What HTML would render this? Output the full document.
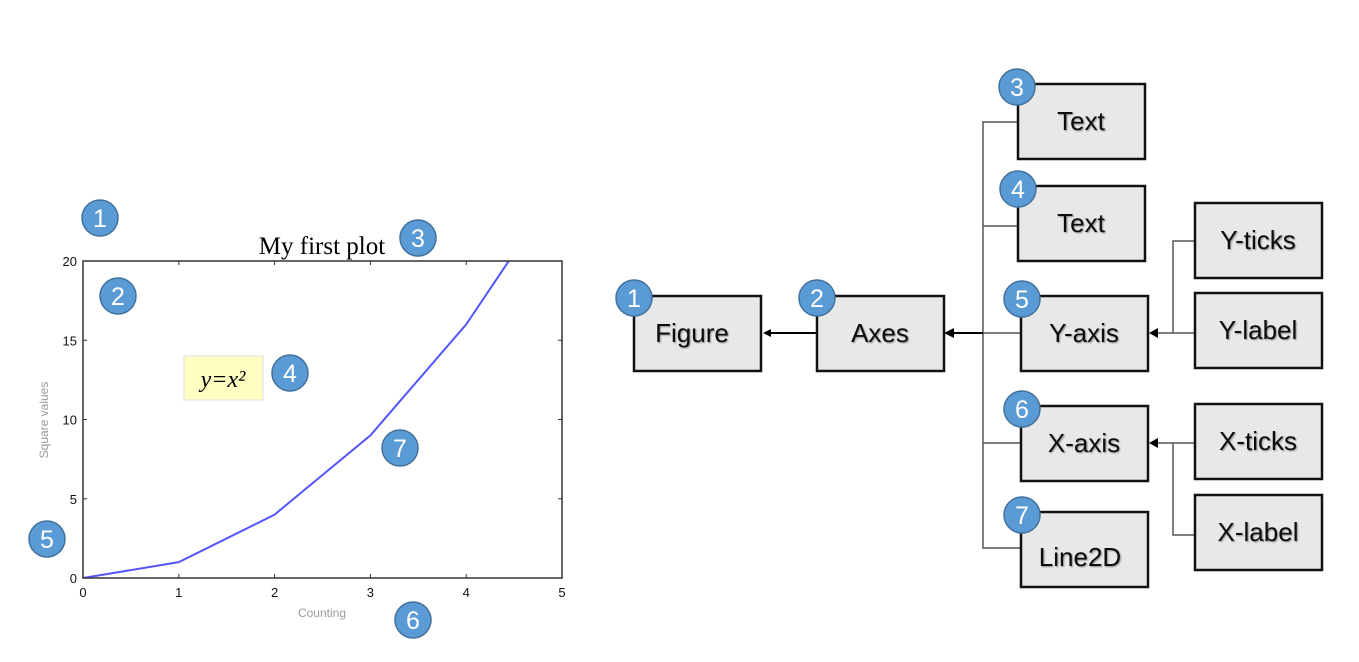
<!DOCTYPE html>
<html><head><meta charset="utf-8"><style>
body{margin:0;background:#fff;width:1359px;height:657px;overflow:hidden;font-family:"Liberation Sans",sans-serif}
</style></head><body>
<svg width="1359" height="657" xmlns="http://www.w3.org/2000/svg">
<defs>
<filter id="sh"><feDropShadow dx="1" dy="1" stdDeviation="0.8" flood-opacity="0.4"/></filter>
<clipPath id="clip"><rect x="83" y="261" width="479" height="317"/></clipPath>
</defs>
<g id="plot">
<text x="322" y="254" font-family="Liberation Serif" font-size="25" text-anchor="middle">My first plot</text>
<rect x="184" y="356" width="79" height="44" fill="#ffffc4" stroke="#ddd"/>
<text x="223" y="387" font-family="Liberation Serif" font-style="italic" font-size="24" text-anchor="middle">y=x²</text>
<g id="line" clip-path="url(#clip)"></g>
<rect x="83" y="261" width="479" height="317" fill="none" stroke="#333" stroke-width="1.5"/>
<g id="ticks" font-size="13" fill="#111"></g>
<text x="322" y="617" font-size="12" fill="#999" text-anchor="middle">Counting</text>
<text x="48" y="420" font-size="12" fill="#999" text-anchor="middle" transform="rotate(-90 48 420)">Square values</text>
</g>
<g id="diagram" fill="none" stroke="#555" stroke-width="1.5">
<path d="M1018 122H983V548H1021M983 226H1018M983 333H1021M983 443H1021"/>
<path d="M983 333H950M817 333H770" stroke="#000" stroke-width="2"/>
<path d="M1195 241H1173V333H1195M1173 333H1158M1195 443H1173V535H1195M1173 443H1158"/>
<g fill="#000" stroke="none">
<polygon points="944,333 954,328 954,338"/><polygon points="763,333 771,329 771,337"/>
<polygon points="1149,333 1158,328 1158,338"/><polygon points="1149,443 1158,438 1158,448"/>
</g>
</g>
<g id="boxes"></g>
<g id="badges"></g>
</svg>
<script>
const xs=[0,1,2,3,4,5];
const ys=[0,1,4,9,16,25];
const xTicks=["0","1","2","3","4","5"];
const yTicks=["0","5","10","15","20"];
const X=v=>83+v*(562-83)/5, Y=v=>578-v*(578-261)/20;
const NS="http://www.w3.org/2000/svg";
function mk(t,a,p){const e=document.createElementNS(NS,t);for(const k in a)e.setAttribute(k,a[k]);p.appendChild(e);return e;}
const lg=document.getElementById('line');
const pl=mk('polyline',{points:xs.map((x,i)=>X(x)+','+Y(ys[i])).join(' '),fill:'none',stroke:'#5555ff','stroke-width':2},lg);


const tg=document.getElementById('ticks');
xTicks.forEach(t=>{const v=+t;
 const e=mk('text',{x:X(v),y:597,'text-anchor':'middle'},tg);e.textContent=t;
 
 
 mk('path',{d:`M${X(v)} 578v-4M${X(v)} 261v4`,stroke:'#333'},tg);});
yTicks.forEach(t=>{const v=+t;
 const e=mk('text',{x:77,y:Y(v)+5,'text-anchor':'end'},tg);e.textContent=t;
 
 
 mk('path',{d:`M83 ${Y(v)}h4M562 ${Y(v)}h-4`,stroke:'#333'},tg);});
const boxes=[["Figure",634,296],["Axes",817,296],["Text",1018,84],["Text",1018,186],["Y-axis",1021,296],["X-axis",1021,406],["Line2D",1021,512],["Y-ticks",1195,203],["Y-label",1195,293],["X-ticks",1195,404],["X-label",1195,495]];
const bg=document.getElementById('boxes');
boxes.forEach(b=>{
 const r=mk('rect',{x:b[1],y:b[2],width:127,height:75,fill:'#e8e8e8',stroke:'#111','stroke-width':2.5},bg);
 
 
 const dy=(b[0]=="Line2D")?8:(b[0]=="Text"?0:0);
 const t=mk('text',{x:b[1]+63+(b[0]=="Figure"?-5:(b[0]=="Line2D"?-4:0)),y:b[2]+46+dy,'text-anchor':'middle','font-size':26,fill:'#111',filter:'url(#sh)'},bg);
 t.textContent=b[0];
 
 
});
const badges=[[1,100,218],[2,118,296],[3,418,238],[4,290,373],[5,47,539],[6,413,620],[7,400,448],[1,634,298],[2,817,298],[3,1017,87],[4,1018,189],[5,1022,299],[6,1022,409],[7,1022,515]];
const bd=document.getElementById('badges');
badges.forEach(b=>{
 const g=mk('g',{},bd);
 
 
 mk('circle',{cx:b[1],cy:b[2],r:18,fill:'#5b9bd5',stroke:'#41719c','stroke-width':1.5},g);
 const t=mk('text',{x:b[1],y:b[2]+9,'text-anchor':'middle','font-size':25,fill:'#fff'},g);t.textContent=b[0];
});
</script>
</body></html>
